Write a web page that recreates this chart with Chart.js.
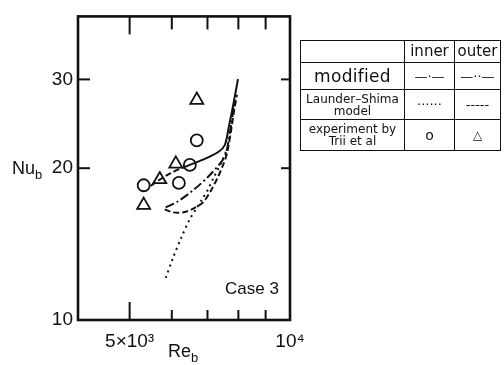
<!DOCTYPE html>
<html><head><meta charset="utf-8">
<script src="https://cdn.jsdelivr.net/npm/chart.js@4.4.1/dist/chart.umd.min.js"></script>
<style>
html,body{margin:0;padding:0;background:#fff;}
#wrap{position:relative;width:504px;height:365px;overflow:hidden;background:#fff;}
canvas{position:absolute;left:0;top:0;}
.lbl{position:absolute;font-family:"Liberation Sans",Arial,sans-serif;color:#111;white-space:nowrap;line-height:1;}
.lbl sub{font-size:72%;vertical-align:-0.35em;line-height:0;}
table{position:absolute;left:300px;top:40px;border-collapse:collapse;font-family:"DejaVu Sans",sans-serif;color:#111;border:1.5px solid #111;}
td{border:1.2px solid #111;text-align:center;padding:0;line-height:1.0;overflow:hidden;white-space:nowrap;}
</style></head>
<body><div id="wrap"><canvas id="c" width="504" height="365"></canvas>
<div class="lbl" style="left:12px;top:159px;font-size:18px">Nu<sub>b</sub></div>
<div class="lbl" style="left:168px;top:342px;font-size:18px">Re<sub>b</sub></div>
<div class="lbl" style="left:225px;top:280px;font-size:17px">Case 3</div>
<table>
<tr style="height:22px"><td style="width:103px"></td><td style="width:49px;font-size:15px">inner</td><td style="width:45px;font-size:15px">outer</td></tr>
<tr style="height:27px"><td style="font-size:17px;letter-spacing:0.3px">modified</td><td style="font-size:13px">—·—</td><td style="font-size:13px">—··—</td></tr>
<tr style="height:30px"><td style="font-size:12px">Launder–Shima<br>model</td><td style="font-size:13px">······</td><td style="font-size:13px">-----</td></tr>
<tr style="height:31px"><td style="font-size:12px">experiment by<br>Trii et al</td><td style="font-size:14px">o</td><td style="font-size:12px">△</td></tr>
</table>
</div>
<script>
// ---- data ----
const xMajorTicks = [5000, 10000];
const xTickLabels = ['5×10³', '10⁴'];
const xMinorTicks = [6000, 7000, 8000, 9000];
const yTicks = [10, 20, 30];
const yTickLabels = ['10', '20', '30'];

const circleRe = [5313, 6186, 6486, 6684];
const circleNu = [18.5, 18.7, 20.3, 22.7];
const triRe = [5313, 5696, 6105, 6684];
const triNu = [16.9, 19.0, 20.4, 27.3];

const modOuterRe = [5477, 5720, 5974, 6318, 6598, 6951, 7356, 7549, 7681, 7815, 7987];
const modOuterNu = [18.45, 19.04, 19.56, 20.09, 20.45, 20.91, 21.58, 22.26, 24.24, 26.51, 30.04];
const modInnerRe = [5845, 6159, 6598, 7012, 7419, 7582, 7748, 7850, 7918];
const modInnerNu = [16.72, 17.18, 18.13, 19.21, 20.54, 21.39, 24.24, 26.51, 27.10];
const lsOuterRe = [5819, 6026, 6318, 6598, 6862, 7104, 7324, 7484, 7615, 7748, 7850, 7952];
const lsOuterNu = [16.57, 16.35, 16.35, 16.65, 17.10, 18.05, 19.21, 20.27, 21.39, 23.70, 25.93, 27.97];
const lsInnerRe = [5845, 6026, 6238, 6486, 6656, 6833, 7012, 7198, 7419, 7582];
const lsInnerNu = [12.12, 13.25, 14.49, 15.85, 16.57, 17.34, 18.13, 19.21, 20.45, 21.58];

const pts = (xs, ys) => xs.map((v, i) => ({x: v, y: ys[i]}));
const INK = '#111';

const curve = (xs, ys, dash, extra) => Object.assign({
  data: pts(xs, ys), showLine: true, pointRadius: 0, borderColor: INK,
  borderWidth: 2, borderDash: dash, tension: 0.3, fill: false
}, extra || {});

const frame = {
  id: 'frame',
  afterDatasetsDraw(chart) {
    const {ctx, chartArea: a, scales: {x, y}} = chart;
    ctx.save();
    ctx.strokeStyle = INK;
    ctx.lineCap = 'butt';
    const ln = (x1, y1, x2, y2) => { ctx.beginPath(); ctx.moveTo(x1, y1); ctx.lineTo(x2, y2); ctx.stroke(); };
    ctx.lineWidth = 2;
    xMajorTicks.forEach(v => { const p = x.getPixelForValue(v); ln(p, a.bottom, p, a.bottom - 18); ln(p, a.top, p, a.top + 18); });
    xMinorTicks.forEach(v => { const p = x.getPixelForValue(v); ln(p, a.bottom, p, a.bottom - 10); ln(p, a.top, p, a.top + 13); });
    yTicks.forEach(v => { const p = y.getPixelForValue(v); ln(a.left, p, a.left + 12, p); ln(a.right, p, a.right - 9, p); });
    ctx.lineWidth = 2.6;
    ctx.strokeRect(a.left, a.top, a.right - a.left, a.bottom - a.top);
    ctx.restore();
  }
};

new Chart(document.getElementById('c'), {
  type: 'scatter',
  data: {
    datasets: [
      curve(modOuterRe, modOuterNu, [], {segment: {borderDash: c => c.p0DataIndex < 3 ? [6, 3] : []}}),
      curve(modInnerRe, modInnerNu, [9, 3, 2, 3]),
      curve(lsOuterRe, lsOuterNu, [6, 3]),
      curve(lsInnerRe, lsInnerNu, [2, 4]),
      {data: pts(circleRe, circleNu), pointStyle: 'circle', pointRadius: 6, borderColor: INK, borderWidth: 1.8, backgroundColor: 'rgba(255,255,255,0)'},
      {data: pts(triRe, triNu), pointStyle: 'triangle', pointRadius: 7.5, borderColor: INK, borderWidth: 1.8, backgroundColor: 'rgba(255,255,255,0)'}
    ]
  },
  options: {
    responsive: false, animation: false, devicePixelRatio: 1,
    layout: {padding: {left: 0, top: 6, right: 214, bottom: 0}},
    plugins: {legend: {display: false}, tooltip: {enabled: false}},
    scales: {
      x: {
        type: 'logarithmic', min: 4000, max: 10000,
        grid: {display: false, drawTicks: false}, border: {display: false},
        afterBuildTicks: s => { s.ticks = xMajorTicks.map(v => ({value: v})); },
        afterFit: s => { s.height = 45; },
        ticks: {autoSkip: false, maxRotation: 0, padding: 10, color: INK,
          font: {family: '"Liberation Sans", Arial, sans-serif', size: 19},
          callback: v => { const i = xMajorTicks.indexOf(v); return i < 0 ? '' : xTickLabels[i]; }}
      },
      y: {
        type: 'logarithmic', min: 10, max: 40,
        grid: {display: false, drawTicks: false}, border: {display: false},
        afterBuildTicks: s => { s.ticks = yTicks.map(v => ({value: v})); },
        afterFit: s => { s.width = 78; },
        ticks: {autoSkip: false, padding: 5, color: INK,
          font: {family: '"Liberation Sans", Arial, sans-serif', size: 19},
          callback: v => { const i = yTicks.indexOf(v); return i < 0 ? '' : yTickLabels[i]; }}
      }
    }
  },
  plugins: [frame]
});
</script>
</body></html>
